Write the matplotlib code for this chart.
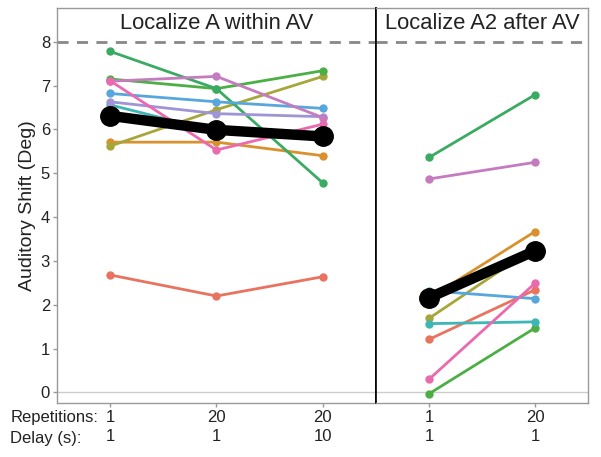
import matplotlib
matplotlib.use("Agg")
import matplotlib.pyplot as plt
import numpy as np

plt.rcParams['font.family'] = ['Liberation Sans', 'DejaVu Sans']

# participant colours (ggplot hue palette, a bit washed out like the print)
colors = {
    "red": "#E8735F",
    "orange": "#D9912E",
    "olive": "#A6A63A",
    "green": "#4CAF45",
    "teal": "#3BAA62",
    "cyan": "#3DB7B5",
    "blue": "#57A7DD",
    "lavender": "#9F95D6",
    "orchid": "#C47BC0",
    "pink": "#EB69AE",
}

# left panel: Localize A within AV (3 conditions)
left_x = [1, 2, 3]
left_data = {
    "red": [2.68, 2.20, 2.64],
    "orange": [5.71, 5.71, 5.40],
    "olive": [5.62, 6.45, 7.21],
    "green": [7.15, 6.93, 7.34],
    "teal": [7.78, 6.93, 4.78],
    "cyan": [6.56, 5.95, 5.87],
    "blue": [6.82, 6.63, 6.48],
    "lavender": [6.63, 6.36, 6.29],
    "orchid": [7.10, 7.21, 6.27],
    "pink": [7.11, 5.53, 6.12],
}
left_mean = [6.31, 5.99, 5.84]
left_ticks = ["1\n1", "20\n1", "20\n10"]

# right panel: Localize A2 after AV (2 conditions)
right_x = [1, 2]
right_data = {
    "red": [1.21, 2.34],
    "orange": [2.15, 3.67],
    "olive": [1.69, 3.31],
    "green": [-0.03, 1.47],
    "teal": [5.36, 6.79],
    "cyan": [1.57, 1.61],
    "blue": [2.32, 2.14],
    "orchid": [4.87, 5.25],
    "pink": [0.30, 2.49],
}
right_mean = [2.16, 3.23]
right_ticks = ["1\n1", "20\n1"]

fig = plt.figure(figsize=(6.01, 4.57), dpi=100)
ax1 = fig.add_axes([0.0948, 0.1182, 0.5308, 0.8643])
ax2 = fig.add_axes([0.6256, 0.1182, 0.3527, 0.8643])

def draw_panel(ax, xs, data, mean, ticks, title):
    ax.axhline(0, color="#cccccc", lw=1, zorder=1)
    ax.axhline(8, color="#888888", lw=2, ls=(0, (4, 3)), zorder=1)
    for name, vals in data.items():
        ax.plot(xs, vals, color=colors[name], lw=2, marker="o", ms=5, zorder=2)
    ax.plot(xs, mean, color="black", lw=7.5, marker="o", ms=14, zorder=3)
    ax.set_xlim(0.5, len(xs) + 0.5)
    ax.set_ylim(-0.24, 8.77)
    ax.set_xticks(xs)
    ax.set_xticklabels(ticks, fontsize=12, color="#222222", linespacing=1.35)
    ax.text(0.5, 0.962, title, transform=ax.transAxes, ha="center", va="center",
            fontsize=15.8, color="#222222")
    for s in ax.spines.values():
        s.set_color("#999999")
        s.set_linewidth(1)
    ax.tick_params(axis="both", color="#999999", length=3, width=1, pad=2)

draw_panel(ax1, left_x, left_data, left_mean, left_ticks, "Localize A within AV")
draw_panel(ax2, right_x, right_data, right_mean, right_ticks, "Localize A2 after AV")

ax1.set_yticks(range(0, 9))
ax1.tick_params(axis="y", labelsize=12, labelcolor="#222222")
ax1.set_ylabel("Auditory Shift (Deg)", fontsize=14, color="#222222", labelpad=3)
ax2.set_yticks([])
# black separator between the two panels
ax1.spines["right"].set_color("black")
ax1.spines["right"].set_linewidth(1.2)
ax2.spines["left"].set_color("black")
ax2.spines["left"].set_linewidth(1.2)

fig.text(0.017, 0.087, "Repetitions:", fontsize=12, color="#222222", va="center")
fig.text(0.017, 0.041, "Delay (s):", fontsize=12, color="#222222", va="center")

fig.savefig("out.png", dpi=100, facecolor="white")
